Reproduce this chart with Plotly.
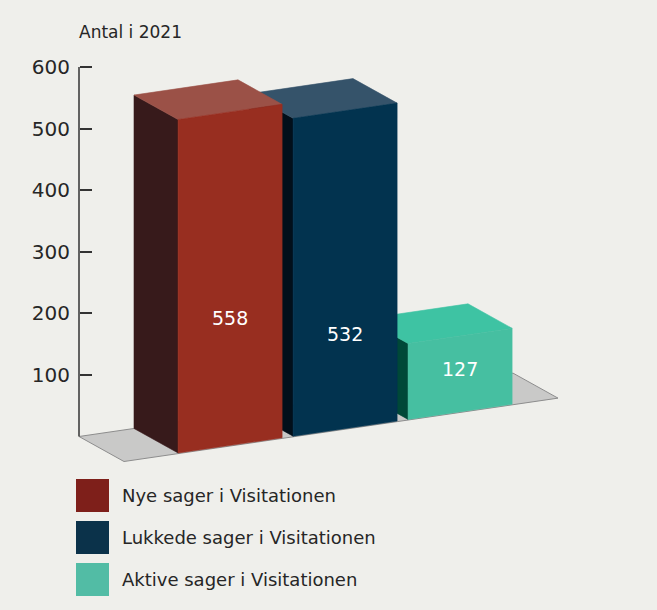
import plotly.graph_objects as go

# ---------------- data ----------------
categories = ["Nye sager i Visitationen", "Lukkede sager i Visitationen", "Aktive sager i Visitationen"]
values = [558, 532, 127]
tick_values = [100, 200, 300, 400, 500, 600]
axis_title = "Antal i 2021"

# ---------------- styles ----------------
front_colors = ["#982e20", "#02334f", "#46bfa1"]
top_colors = ["#9b5147", "#35536a", "#3ec3a3"]
side_colors = ["#371a1b", "#020f1a", "#004838"]
legend_colors = ["#7e1f1a", "#0b324a", "#52bca5"]
BG = "#efefeb"
TEXT = "#262626"
FONT = "DejaVu Sans"

# ---------------- geometry (layout config) ----------------
W, H = 657, 610
X0, Y0 = 79, 436.5        # screen position of axis origin
K = 0.616                 # px per unit
VSCALE = 0.97             # vertical foreshortening of the bars
SLOPE = 0.146             # floor rise per px along bar row
DX, DY = 45, 25           # depth vector in px
BAR_W, BAR_STEP, BAR_U0 = 104, 115, 55
D_BACK, D_FRONT = 0.0, 0.98
FLOOR_LEN = 434
label_frac = [0.375, 0.29, 0.53]


def proj(u, d, h):
    return u + DX * d, h * VSCALE + (SLOPE * u - DY * d) / K


def poly(pts):
    xs, ys = zip(*[proj(*p) for p in pts])
    return list(xs) + [xs[0]], list(ys) + [ys[0]]


def face(pts, color, line=None):
    xs, ys = poly(pts)
    return go.Scatter(x=xs, y=ys, mode="lines", fill="toself", fillcolor=color,
                      line=dict(color=line or color, width=1 if line else 0.6),
                      hoverinfo="skip", showlegend=False)


fig = go.Figure()

# floor
fig.add_trace(face([(0, 0, 0), (FLOOR_LEN, 0, 0), (FLOOR_LEN, 1, 0), (0, 1, 0)], "#c9c9c8", "#8d8d8d"))

# bars, drawn right to left (right ones are further back)
for i in reversed(range(len(values))):
    v = values[i]
    u0 = BAR_U0 + i * BAR_STEP
    u1 = u0 + BAR_W
    fig.add_trace(face([(u0, D_BACK, 0), (u0, D_FRONT, 0), (u0, D_FRONT, v), (u0, D_BACK, v)], side_colors[i]))
    fig.add_trace(face([(u0, D_BACK, v), (u1, D_BACK, v), (u1, D_FRONT, v), (u0, D_FRONT, v)], top_colors[i]))
    fig.add_trace(face([(u0, D_FRONT, 0), (u1, D_FRONT, 0), (u1, D_FRONT, v), (u0, D_FRONT, v)], front_colors[i]))

# value labels
lx, ly = [], []
for i, v in enumerate(values):
    x, y = proj(BAR_U0 + i * BAR_STEP + BAR_W / 2, D_FRONT, v * label_frac[i])
    lx.append(x)
    ly.append(y)
fig.add_trace(go.Scatter(x=lx, y=ly, mode="text", text=[str(v) for v in values],
                         textfont=dict(color="white", size=19, family=FONT),
                         hoverinfo="skip", showlegend=False))

# y axis line
fig.add_shape(type="line", xref="x", yref="y", x0=0, x1=0, y0=0, y1=max(tick_values),
              line=dict(color="#333333", width=1.5))

# legend
leg_y_screen = [495.5, 537.5, 579.5]
leg_y = [(Y0 - s) / K for s in leg_y_screen]
leg_x = 92.5 - X0
fig.add_trace(go.Scatter(x=[leg_x] * 3, y=leg_y, mode="markers",
                         marker=dict(symbol="square", size=33, color=legend_colors, line=dict(width=0)),
                         hoverinfo="skip", showlegend=False))
for name, y in zip(categories, leg_y):
    fig.add_annotation(x=120 - X0, y=y, xref="x", yref="y", text=name, showarrow=False,
                       xanchor="left", yanchor="middle",
                       font=dict(size=18, color=TEXT, family=FONT))

fig.add_annotation(x=77 / W, y=1 - 32 / H, xref="paper", yref="paper", text=axis_title,
                   showarrow=False, xanchor="left", yanchor="middle",
                   font=dict(size=17, color=TEXT, family=FONT))

fig.update_layout(
    width=W, height=H, margin=dict(l=0, r=0, t=0, b=0),
    paper_bgcolor=BG, plot_bgcolor=BG,
    xaxis=dict(range=[-X0, W - X0], visible=False, fixedrange=True),
    yaxis=dict(range=[(Y0 - H) / K, Y0 / K], anchor="free", position=X0 / W,
               tickvals=tick_values, ticks="inside", ticklen=12, tickwidth=1.5,
               tickcolor="#333333", showline=False, showgrid=False, zeroline=False,
               ticklabelstandoff=9, fixedrange=True,
               tickfont=dict(size=20, color=TEXT, family=FONT)),
    showlegend=False,
)

fig.write_html("out.html", config={"displayModeBar": False},
               post_script="document.body.style.margin='0';document.body.style.overflow='hidden';")
